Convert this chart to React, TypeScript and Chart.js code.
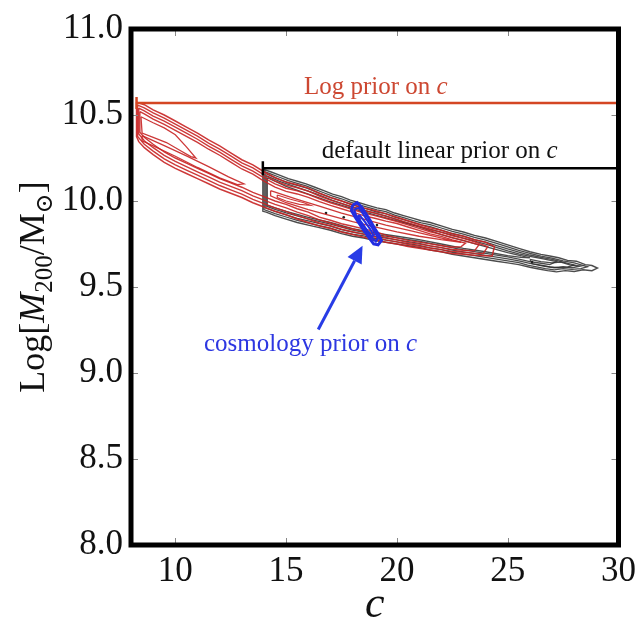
import React, { useEffect, useRef } from "react";
import { Chart, registerables } from "chart.js";
Chart.register(...registerables);

type P = [number, number];

const X_MIN = 8;
const X_MAX = 30;
const Y_MIN = 8;
const Y_MAX = 11;
const xTickValues = [10, 15, 20, 25, 30];
const yTickValues = [8, 8.5, 9, 9.5, 10, 10.5, 11];

// ---------- Red contours (log prior on c) ----------
const red1: P[] = [
  [8.25, 10.575], [8.6, 10.56], [9, 10.53], [9.5, 10.5], [10, 10.465], [10.5, 10.43], [11, 10.395], [11.5, 10.355],
  [12, 10.32], [12.5, 10.28], [13, 10.24], [13.5, 10.21], [14, 10.17], [14.5, 10.135], [15, 10.11], [15.5, 10.095],
  [16, 10.075], [16.5, 10.045], [17, 10.02], [17.5, 10.0], [18, 9.98], [18.5, 9.96], [19, 9.945], [19.5, 9.925],
  [20, 9.905], [20.5, 9.885], [21, 9.865], [21.5, 9.845], [22, 9.83], [22.5, 9.81], [23, 9.795], [23.5, 9.775],
  [24, 9.76], [24.4, 9.735],
  [24.3, 9.68], [23.5, 9.685], [23, 9.69], [22.5, 9.695], [22, 9.705], [21.5, 9.715], [21, 9.725], [20.5, 9.735],
  [20, 9.75], [19.5, 9.76], [19, 9.775], [18.5, 9.79], [18, 9.805], [17.5, 9.82], [17, 9.84], [16.5, 9.855],
  [16, 9.875], [15.5, 9.895], [15, 9.92], [14.5, 9.94], [14, 9.965], [13.5, 9.99], [13, 10.02], [12.5, 10.045],
  [12, 10.07], [11.5, 10.1], [11, 10.13], [10.5, 10.16], [10, 10.19], [9.5, 10.225], [9, 10.27], [8.6, 10.31],
  [8.35, 10.345], [8.25, 10.375], [8.25, 10.575],
];
const red2: P[] = [
  [8.3, 10.558], [8.6, 10.542], [9, 10.512], [9.5, 10.482], [10, 10.447], [10.5, 10.412], [11, 10.377], [11.5, 10.337],
  [12, 10.302], [12.5, 10.262], [13, 10.222], [13.5, 10.192], [14, 10.152], [14.5, 10.117], [15, 10.092],
  [15.5, 10.077], [16, 10.057], [16.5, 10.029], [17, 10.005], [17.5, 9.985], [18, 9.965], [18.5, 9.945], [19, 9.93],
  [19.5, 9.911], [20, 9.893], [20.5, 9.873], [21, 9.853], [21.5, 9.833], [22, 9.818], [22.5, 9.798], [23, 9.783],
  [23.5, 9.763], [24.1, 9.735],
  [23.9, 9.695], [23.5, 9.697], [23, 9.702], [22.5, 9.707], [22, 9.717], [21.5, 9.727], [21, 9.737], [20.5, 9.747],
  [20, 9.762], [19.5, 9.774], [19, 9.791], [18.5, 9.806], [18, 9.821], [17.5, 9.836], [17, 9.856], [16.5, 9.872],
  [16, 9.895], [15.5, 9.915], [15, 9.94], [14.5, 9.96], [14, 9.985], [13.5, 10.01], [13, 10.04], [12.5, 10.065],
  [12, 10.09], [11.5, 10.12], [11, 10.15], [10.5, 10.18], [10, 10.21], [9.5, 10.245], [9, 10.29], [8.6, 10.33],
  [8.3, 10.375], [8.3, 10.558],
];
const red3: P[] = [
  [8.35, 10.54], [8.6, 10.524], [9, 10.494], [9.5, 10.464], [10, 10.429], [10.5, 10.394], [11, 10.359],
  [11.5, 10.319], [12, 10.284], [12.5, 10.244], [13, 10.204], [13.5, 10.174], [14, 10.134], [14.5, 10.099],
  [15, 10.074], [15.5, 10.059], [16, 10.039], [16.5, 10.013], [17, 9.99], [17.5, 9.97], [18, 9.95], [18.5, 9.93],
  [19, 9.915], [19.5, 9.898], [20, 9.881], [20.5, 9.861], [21, 9.841], [21.5, 9.821], [22, 9.806], [22.5, 9.786],
  [23, 9.771], [23.7, 9.745],
  [23.5, 9.71], [23, 9.714], [22.5, 9.719], [22, 9.729], [21.5, 9.739], [21, 9.749], [20.5, 9.759], [20, 9.774],
  [19.5, 9.788], [19, 9.807], [18.5, 9.822], [18, 9.837], [17.5, 9.852], [17, 9.872], [16.5, 9.89], [16, 9.915],
  [15.5, 9.935], [15, 9.96], [14.5, 9.98], [14, 10.005], [13.5, 10.03], [13, 10.06], [12.5, 10.085], [12, 10.11],
  [11.5, 10.14], [11, 10.17], [10.5, 10.2], [10, 10.23], [9.5, 10.265], [9, 10.31], [8.6, 10.35], [8.35, 10.39],
  [8.35, 10.54],
];
const red4: P[] = [
  [8.4, 10.52], [8.6, 10.506], [9, 10.476], [9.5, 10.446], [10, 10.411], [10.5, 10.376], [11, 10.341],
  [11.5, 10.301], [12, 10.266], [12.5, 10.226], [13, 10.186], [13.5, 10.156], [14, 10.116], [14.5, 10.081],
  [15, 10.056], [15.5, 10.041], [16, 10.021], [16.5, 9.996], [17, 9.975], [17.5, 9.955], [18, 9.935], [18.5, 9.915],
  [19, 9.9], [19.5, 9.883], [20, 9.869], [20.5, 9.849], [21, 9.829], [21.5, 9.809], [22, 9.794], [22.5, 9.774],
  [23.1, 9.755],
  [22.9, 9.735], [22.5, 9.731], [22, 9.741], [21.5, 9.751], [21, 9.761], [20.5, 9.771], [20, 9.786], [19.5, 9.802],
  [19, 9.823], [18.5, 9.838], [18, 9.853], [17.5, 9.868], [17, 9.888], [16.5, 9.906], [16, 9.935], [15.5, 9.955],
  [15, 9.98], [14.5, 10.0], [14, 10.025], [13.5, 10.05], [13, 10.08], [12.5, 10.105], [12, 10.13], [11.5, 10.16],
  [11, 10.19], [10.5, 10.22], [10, 10.25], [9.5, 10.285], [9, 10.33], [8.6, 10.37], [8.4, 10.4], [8.4, 10.52],
];
const redHole1: P[] = [
  [8.45, 10.49], [9, 10.455], [9.5, 10.425], [10, 10.385], [10.5, 10.315], [10.93, 10.25], [10.7, 10.258],
  [10.2, 10.295], [9.6, 10.34], [9, 10.37], [8.5, 10.395], [8.45, 10.49],
];
const redHole2: P[] = [
  [8.5, 10.38], [9.5, 10.322], [10.5, 10.262], [11.5, 10.2], [12.4, 10.14], [13.1, 10.1], [12.8, 10.095],
  [12, 10.135], [11, 10.195], [10, 10.26], [9, 10.32], [8.5, 10.35], [8.5, 10.38],
];
const redHole3: P[] = [
  [14.3, 10.06], [15.5, 10.01], [16.5, 9.97], [17.5, 9.93], [18.5, 9.895], [19.5, 9.86], [20.5, 9.83], [21.5, 9.8],
  [22.5, 9.77], [22.9, 9.76], [22, 9.775], [21, 9.795], [20, 9.82], [19, 9.85], [18, 9.88], [17, 9.915], [16, 9.95],
  [15, 9.99], [14.3, 10.03], [14.3, 10.06],
];
const redHole4: P[] = [
  [14.6, 10.035], [15.2, 10.01], [15.8, 9.99], [16.1, 9.975], [15.6, 9.98], [15.0, 10.0], [14.6, 10.02], [14.6, 10.035],
];

// ---------- Black contours (default linear prior on c) ----------
const black1: P[] = [
  [13.95, 10.185], [14.3, 10.17], [14.7, 10.15], [15.1, 10.13], [15.5, 10.115], [15.9, 10.1], [16.3, 10.08],
  [16.7, 10.06], [17.1, 10.04], [17.5, 10.025], [17.9, 10.005], [18.3, 9.99], [18.7, 9.975], [19.1, 9.96],
  [19.5, 9.95], [19.9, 9.93], [20.3, 9.915], [20.7, 9.9], [21.1, 9.885], [21.5, 9.875], [22, 9.855], [22.5, 9.835],
  [23, 9.82], [23.5, 9.8], [24, 9.785], [24.5, 9.765], [25, 9.745], [25.5, 9.725], [26, 9.705], [26.5, 9.69],
  [26.9, 9.68], [27.3, 9.67], [27.7, 9.655], [28.1, 9.65], [28.5, 9.63], [28.8, 9.625], [29.05, 9.61],
  [28.8, 9.595], [28.4, 9.6], [28, 9.59], [27.6, 9.595], [27.2, 9.588], [26.8, 9.595], [26.4, 9.605], [26, 9.615],
  [25.5, 9.63], [25, 9.64], [24.5, 9.65], [24, 9.66], [23.5, 9.67], [23, 9.68], [22.5, 9.69], [22, 9.705],
  [21.5, 9.715], [21, 9.73], [20.5, 9.74], [20, 9.75], [19.5, 9.76], [19, 9.77], [18.5, 9.785], [18, 9.795],
  [17.5, 9.81], [17, 9.83], [16.5, 9.845], [16, 9.86], [15.5, 9.875], [15, 9.895], [14.5, 9.915], [14.1, 9.935],
  [13.95, 9.94], [13.95, 10.185],
];
const black2: P[] = [
  [14.0, 10.172], [14.3, 10.158], [14.7, 10.138], [15.1, 10.118], [15.5, 10.103], [15.9, 10.088], [16.3, 10.068],
  [16.7, 10.048], [17.1, 10.028], [17.5, 10.013], [17.9, 9.993], [18.3, 9.978], [18.7, 9.963], [19.1, 9.948],
  [19.5, 9.938], [19.9, 9.918], [20.3, 9.903], [20.7, 9.888], [21.1, 9.873], [21.5, 9.863], [22, 9.843],
  [22.5, 9.823], [23, 9.808], [23.5, 9.788], [24, 9.773], [24.5, 9.753], [25, 9.733], [25.5, 9.713], [26, 9.695],
  [26.5, 9.68], [27, 9.668], [27.5, 9.652], [28, 9.64], [28.6, 9.618],
  [28.3, 9.607], [27.9, 9.603], [27.5, 9.607], [27.1, 9.6], [26.7, 9.607], [26.3, 9.617], [25.9, 9.627],
  [25.5, 9.642], [25, 9.652], [24.5, 9.662], [24, 9.672], [23.5, 9.682], [23, 9.692], [22.5, 9.702], [22, 9.717],
  [21.5, 9.727], [21, 9.742], [20.5, 9.752], [20, 9.762], [19.5, 9.772], [19, 9.782], [18.5, 9.797], [18, 9.807],
  [17.5, 9.822], [17, 9.842], [16.5, 9.857], [16, 9.872], [15.5, 9.887], [15, 9.907], [14.5, 9.927], [14.0, 9.95],
  [14.0, 10.172],
];
const black3: P[] = [
  [14.05, 10.16], [14.7, 10.126], [15.1, 10.106], [15.5, 10.091], [15.9, 10.076], [16.3, 10.056], [16.7, 10.036],
  [17.1, 10.016], [17.5, 10.001], [17.9, 9.981], [18.3, 9.966], [18.7, 9.951], [19.1, 9.936], [19.5, 9.926],
  [19.9, 9.906], [20.3, 9.891], [20.7, 9.876], [21.1, 9.861], [21.5, 9.851], [22, 9.831], [22.5, 9.811],
  [23, 9.796], [23.5, 9.776], [24, 9.761], [24.5, 9.741], [25, 9.721], [25.5, 9.703], [26, 9.686], [26.5, 9.672],
  [27, 9.66], [27.5, 9.645], [28, 9.628],
  [27.7, 9.615], [27.3, 9.612], [26.9, 9.617], [26.5, 9.627], [26, 9.637], [25.5, 9.652], [25, 9.664],
  [24.5, 9.674], [24, 9.684], [23.5, 9.694], [23, 9.704], [22.5, 9.714], [22, 9.729], [21.5, 9.739], [21, 9.754],
  [20.5, 9.764], [20, 9.774], [19.5, 9.784], [19, 9.794], [18.5, 9.809], [18, 9.819], [17.5, 9.834], [17, 9.854],
  [16.5, 9.869], [16, 9.884], [15.5, 9.899], [15, 9.919], [14.5, 9.939], [14.05, 9.96], [14.05, 10.16],
];
const black4: P[] = [
  [14.1, 10.148], [14.7, 10.114], [15.5, 10.079], [16.3, 10.044], [17.1, 10.004], [17.9, 9.969], [18.7, 9.939],
  [19.5, 9.914], [20.3, 9.879], [21.1, 9.849], [22, 9.819], [23, 9.784], [24, 9.749], [25, 9.71], [25.5, 9.693],
  [26, 9.678], [26.6, 9.664], [27.2, 9.648],
  [26.9, 9.63], [26.5, 9.638], [26, 9.648], [25.5, 9.662], [25, 9.675], [24, 9.696], [23, 9.716], [22, 9.741],
  [21, 9.766], [20, 9.786], [19, 9.806], [18, 9.831], [17, 9.866], [16, 9.896], [15, 9.931], [14.5, 9.951],
  [14.1, 9.97], [14.1, 10.148],
];
const black5: P[] = [
  [14.15, 10.135], [15, 10.085], [16, 10.04], [17, 9.995], [18, 9.955], [19, 9.92], [20, 9.885], [21, 9.85],
  [22, 9.805], [23, 9.77], [24, 9.735], [25, 9.7], [26, 9.67],
  [25.6, 9.672], [25, 9.683], [24, 9.705], [23, 9.725], [22, 9.75], [21, 9.775], [20, 9.795], [19, 9.815],
  [18, 9.84], [17, 9.875], [16, 9.905], [15, 9.94], [14.15, 9.975], [14.15, 10.135],
];
const black6: P[] = [
  [26, 9.66], [26.5, 9.648], [27, 9.64], [27.4, 9.645], [27.8, 9.628], [28.3, 9.622], [27.9, 9.612], [27.5, 9.618],
  [27.1, 9.612], [26.6, 9.622], [26.1, 9.635], [26, 9.66],
];
const blackDots: P[] = [[16.8, 9.93], [17.6, 9.905], [19.1, 9.86], [26.1, 9.645]];

// ---------- Blue contours (cosmology prior on c) ----------
const blue1: P[] = [
  [18.0, 9.975], [18.2, 9.99], [18.4, 9.965], [18.6, 9.925], [18.8, 9.885], [19.0, 9.84], [19.2, 9.8], [19.3, 9.77],
  [19.15, 9.745], [18.95, 9.75], [18.75, 9.785], [18.5, 9.83], [18.3, 9.87], [18.1, 9.91], [17.95, 9.945],
  [18.0, 9.975],
];
const blue2: P[] = [
  [18.12, 9.955], [18.3, 9.96], [18.5, 9.92], [18.75, 9.87], [18.95, 9.83], [19.15, 9.785], [19.05, 9.765],
  [18.85, 9.79], [18.6, 9.835], [18.35, 9.88], [18.15, 9.92], [18.08, 9.945], [18.12, 9.955],
];
const blue3: P[] = [
  [18.3, 9.92], [18.55, 9.88], [18.8, 9.835], [18.95, 9.8], [18.85, 9.795], [18.6, 9.84], [18.35, 9.885],
  [18.25, 9.91], [18.3, 9.92],
];

// ---------- Prior ranges ----------
const logPriorRange: P[] = [[8.25, 10.57], [30, 10.57]];
const linearPriorRange: P[] = [[13.95, 10.19], [30, 10.19]];

// ---------- Arrow (tail, tip) ----------
const arrowTail: P = [16.45, 9.253];
const arrowTip: P = [18.45, 9.74];

// ---------- Annotation labels: [text, italic suffix] ----------
const logPriorLabel = ["Log prior on ", "c"];
const linearPriorLabel = ["default linear prior on ", "c"];
const cosmoPriorLabel = ["cosmology prior on ", "c"];
const logPriorLabelPos: P = [19.05, 10.658];
const linearPriorLabelPos: P = [21.93, 10.29];
const cosmoPriorLabelPos: P = [16.1, 9.167];

const SERIF = "'Liberation Serif', 'DejaVu Serif', serif";

const toPts = (arr: P[]) => arr.map(([x, y]) => ({ x, y }));

const contour = (arr: P[], color: string, width: number) => ({
  type: "line" as const,
  data: toPts(arr),
  borderColor: color,
  borderWidth: width,
  pointRadius: 0,
  showLine: true,
  fill: false,
  tension: 0,
});

const decorPlugin = {
  id: "decor",
  afterDatasetsDraw(chart: any) {
    const { ctx, scales } = chart;
    const xs = scales.x;
    const ys = scales.y;
    const drawLabel = (parts: string[], pos: P, color: string, size: number) => {
      ctx.save();
      ctx.fillStyle = color;
      ctx.textBaseline = "middle";
      ctx.font = `${size}px ${SERIF}`;
      const w1 = ctx.measureText(parts[0]).width;
      ctx.font = `italic ${size}px ${SERIF}`;
      const w2 = ctx.measureText(parts[1]).width;
      const cx = xs.getPixelForValue(pos[0]);
      const cy = ys.getPixelForValue(pos[1]);
      const x = cx - (w1 + w2) / 2;
      ctx.textAlign = "left";
      ctx.font = `${size}px ${SERIF}`;
      ctx.fillText(parts[0], x, cy);
      ctx.font = `italic ${size}px ${SERIF}`;
      ctx.fillText(parts[1], x + w1, cy);
      ctx.restore();
    };
    drawLabel(logPriorLabel, logPriorLabelPos, "rgb(205,72,50)", 25);
    drawLabel(linearPriorLabel, linearPriorLabelPos, "#111", 25);
    drawLabel(cosmoPriorLabel, cosmoPriorLabelPos, "rgb(45,55,225)", 25);

    // arrow
    const tx = xs.getPixelForValue(arrowTail[0]);
    const ty = ys.getPixelForValue(arrowTail[1]);
    const hx = xs.getPixelForValue(arrowTip[0]);
    const hy = ys.getPixelForValue(arrowTip[1]);
    const ang = Math.atan2(hy - ty, hx - tx);
    const headLen = 17;
    const headW = 8;
    const bx = hx - Math.cos(ang) * headLen;
    const by = hy - Math.sin(ang) * headLen;
    ctx.save();
    ctx.strokeStyle = "rgb(40,60,230)";
    ctx.fillStyle = "rgb(40,60,230)";
    ctx.lineWidth = 3;
    ctx.beginPath();
    ctx.moveTo(tx, ty);
    ctx.lineTo(bx, by);
    ctx.stroke();
    ctx.beginPath();
    ctx.moveTo(hx, hy);
    ctx.lineTo(bx - Math.sin(ang) * headW, by + Math.cos(ang) * headW);
    ctx.lineTo(bx + Math.sin(ang) * headW, by - Math.cos(ang) * headW);
    ctx.closePath();
    ctx.fill();
    ctx.restore();
  },
  afterDraw(chart: any) {
    const { ctx, chartArea, scales } = chart;
    const { left, top, right, bottom } = chartArea;
    ctx.save();
    // inward ticks
    ctx.strokeStyle = "#888";
    ctx.lineWidth = 1;
    xTickValues.forEach((v) => {
      const px = Math.round(scales.x.getPixelForValue(v)) + 0.5;
      ctx.beginPath();
      ctx.moveTo(px, bottom);
      ctx.lineTo(px, bottom - 7);
      ctx.moveTo(px, top);
      ctx.lineTo(px, top + 7);
      ctx.stroke();
    });
    yTickValues.forEach((v) => {
      const py = Math.round(scales.y.getPixelForValue(v)) + 0.5;
      ctx.beginPath();
      ctx.moveTo(left, py);
      ctx.lineTo(left + 7, py);
      ctx.moveTo(right, py);
      ctx.lineTo(right - 7, py);
      ctx.stroke();
    });
    // frame
    ctx.strokeStyle = "#000";
    ctx.lineWidth = 5;
    ctx.strokeRect(left, top, right - left, bottom - top);

    // x title
    ctx.fillStyle = "#111";
    ctx.textAlign = "center";
    ctx.textBaseline = "middle";
    ctx.font = `italic 44px ${SERIF}`;
    ctx.fillText("c", (left + right) / 2, 605);

    // y title with subscripts
    const segs = [
      { t: "Log[", size: 36, italic: false, dy: 0 },
      { t: "M", size: 36, italic: true, dy: 0 },
      { t: "200", size: 25, italic: false, dy: 8 },
      { t: "/M", size: 36, italic: false, dy: 0 },
      { t: "\u2299", size: 24, italic: false, dy: 8 },
      { t: "]", size: 36, italic: false, dy: 0 },
    ];
    let total = 0;
    const widths = segs.map((s) => {
      ctx.font = `${s.italic ? "italic " : ""}${s.size}px ${SERIF}`;
      const w = ctx.measureText(s.t).width;
      total += w;
      return w;
    });
    ctx.translate(32, (top + bottom) / 2);
    ctx.rotate(-Math.PI / 2);
    ctx.textAlign = "left";
    ctx.textBaseline = "alphabetic";
    let x = -total / 2;
    segs.forEach((s, i) => {
      ctx.font = `${s.italic ? "italic " : ""}${s.size}px ${SERIF}`;
      ctx.fillText(s.t, x, 12 + s.dy);
      x += widths[i];
    });
    ctx.restore();
  },
};

export default function App() {
  const ref = useRef<HTMLCanvasElement | null>(null);
  useEffect(() => {
    if (!ref.current) return;
    const redC = "rgba(200,35,35,0.9)";
    const blackC = "rgba(45,45,45,0.85)";
    const blueC = "rgb(35,45,225)";
    const chart = new Chart(ref.current, {
      type: "scatter",
      data: {
        datasets: [
          contour(blue3, blueC, 2),
          contour(blue2, blueC, 2.2),
          contour(blue1, blueC, 3),
          {
            type: "line",
            data: toPts(logPriorRange),
            borderColor: "rgb(212,70,35)",
            borderWidth: 2.5,
            pointStyle: "line",
            rotation: 90,
            pointRadius: 6,
            pointBorderWidth: 2.5,
            pointBorderColor: "rgb(212,70,35)",
            showLine: true,
            fill: false,
          },
          {
            type: "line",
            data: toPts(linearPriorRange),
            borderColor: "#000",
            borderWidth: 2.5,
            pointStyle: "line",
            rotation: 90,
            pointRadius: 7,
            pointBorderWidth: 2.5,
            pointBorderColor: "#000",
            showLine: true,
            fill: false,
          },
          contour(redHole1, redC, 1.3),
          contour(redHole2, redC, 1.3),
          contour(redHole3, redC, 1.3),
          contour(redHole4, redC, 1.2),
          contour(red4, redC, 1.4),
          contour(red3, redC, 1.4),
          contour(red2, redC, 1.4),
          contour(red1, redC, 1.5),
          {
            type: "scatter",
            data: toPts(blackDots),
            pointRadius: 1.3,
            backgroundColor: "#222",
            borderWidth: 0,
          },
          contour(black6, blackC, 1.3),
          contour(black5, blackC, 1.3),
          contour(black4, blackC, 1.3),
          contour(black3, blackC, 1.3),
          contour(black2, blackC, 1.3),
          contour(black1, blackC, 1.4),
        ] as any,
      },
      options: {
        animation: false,
        responsive: true,
        maintainAspectRatio: false,
        layout: { padding: { top: 22, right: 19, left: 0, bottom: 0 } },
        plugins: { legend: { display: false }, tooltip: { enabled: false } },
        scales: {
          x: {
            type: "linear",
            min: X_MIN,
            max: X_MAX,
            grid: { display: false, drawTicks: false },
            border: { display: false },
            afterBuildTicks: (s: any) => {
              s.ticks = xTickValues.map((v) => ({ value: v }));
            },
            afterFit: (s: any) => {
              s.height = 84;
            },
            ticks: {
              font: { family: SERIF, size: 35 },
              color: "#111",
              padding: 6,
              maxRotation: 0,
              callback: (v: any) => String(v),
            },
          },
          y: {
            type: "linear",
            min: Y_MIN,
            max: Y_MAX,
            grid: { display: false, drawTicks: false },
            border: { display: false },
            afterBuildTicks: (s: any) => {
              s.ticks = yTickValues.map((v) => ({ value: v }));
            },
            afterFit: (s: any) => {
              s.width = 131;
            },
            ticks: {
              font: { family: SERIF, size: 35 },
              color: "#111",
              padding: 8,
              callback: (v: any) => Number(v).toFixed(1),
            },
          },
        },
      } as any,
      plugins: [decorPlugin],
    });
    return () => chart.destroy();
  }, []);
  return (
    <div style={{ position: "fixed", left: 0, top: 0, width: 642, height: 629, background: "#fff" }}>
      <canvas ref={ref} />
    </div>
  );
}
